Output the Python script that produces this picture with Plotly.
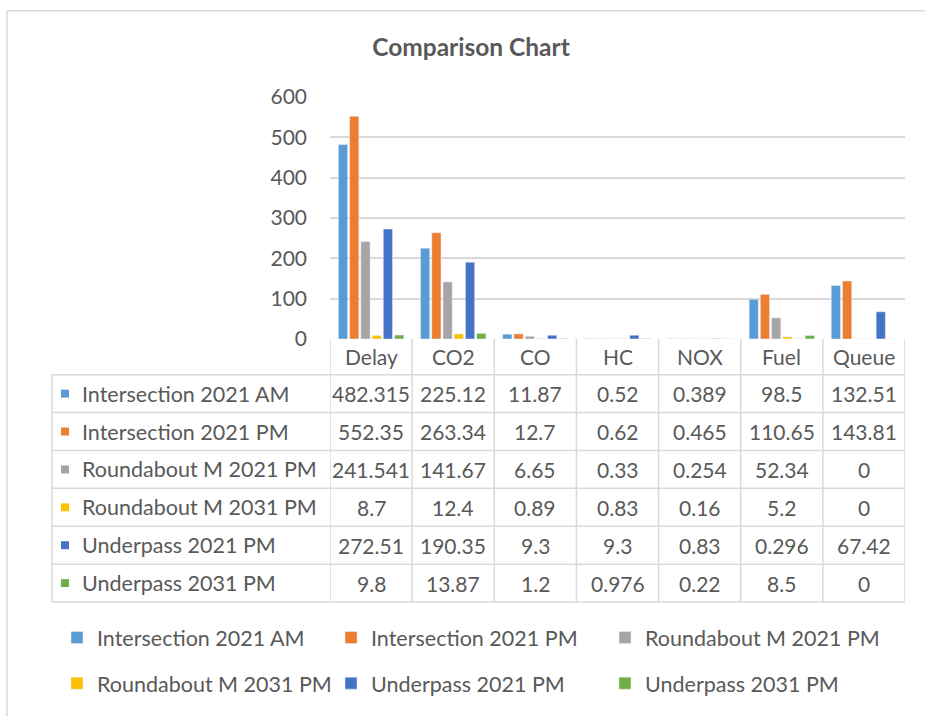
import plotly.graph_objects as go

categories = ["Delay", "CO2", "CO", "HC", "NOX", "Fuel", "Queue"]
series_names = ["Intersection 2021 AM", "Intersection 2021 PM", "Roundabout M 2021 PM",
                "Roundabout M 2031 PM", "Underpass 2021 PM", "Underpass 2031 PM"]
intersection_2021_am = [482.315, 225.12, 11.87, 0.52, 0.389, 98.5, 132.51]
intersection_2021_pm = [552.35, 263.34, 12.7, 0.62, 0.465, 110.65, 143.81]
roundabout_m_2021_pm = [241.541, 141.67, 6.65, 0.33, 0.254, 52.34, 0]
roundabout_m_2031_pm = [8.7, 12.4, 0.89, 0.83, 0.16, 5.2, 0]
underpass_2021_pm = [272.51, 190.35, 9.3, 9.3, 0.83, 0.296, 67.42]
underpass_2031_pm = [9.8, 13.87, 1.2, 0.976, 0.22, 8.5, 0]
table_text = [
    ["482.315", "225.12", "11.87", "0.52", "0.389", "98.5", "132.51"],
    ["552.35", "263.34", "12.7", "0.62", "0.465", "110.65", "143.81"],
    ["241.541", "141.67", "6.65", "0.33", "0.254", "52.34", "0"],
    ["8.7", "12.4", "0.89", "0.83", "0.16", "5.2", "0"],
    ["272.51", "190.35", "9.3", "9.3", "0.83", "0.296", "67.42"],
    ["9.8", "13.87", "1.2", "0.976", "0.22", "8.5", "0"],
]
series_values = [intersection_2021_am, intersection_2021_pm, roundabout_m_2021_pm,
                 roundabout_m_2031_pm, underpass_2021_pm, underpass_2031_pm]
colors = ["#5B9BD5", "#ED7D31", "#A5A5A5", "#FFC000", "#4472C4", "#70AD47"]

W, H = 925, 716
PL, PR, PT, PB = 330, 905, 97, 341
FONT = "Lato"
TXT = "#595959"
LINE = "#D9D9D9"

def xp(px):
    return (px - PL) / (PR - PL)

def yp(py):
    return (PB - py) / (PB - PT)

fig = go.Figure()
for i, (name, vals) in enumerate(zip(series_names, series_values)):
    fig.add_trace(go.Bar(x=categories, y=vals, name=name, marker_color=colors[i],
                         legend="legend" if i < 3 else "legend2"))

shapes = []
annotations = []
# outer frame
shapes.append(dict(type="line", xref="paper", yref="paper", x0=xp(7), x1=xp(W + 5),
                   y0=yp(10), y1=yp(10), line=dict(color=LINE, width=1.5)))
shapes.append(dict(type="line", xref="paper", yref="paper", x0=xp(7), x1=xp(7),
                   y0=yp(10), y1=yp(H + 5), line=dict(color=LINE, width=1.5)))

HEADER_BOTTOM = 377
ROW_H = 38.2
TABLE_LEFT = 52
n_rows = len(series_names)
table_bottom = HEADER_BOTTOM + n_rows * ROW_H
# vertical column lines
for j in range(len(categories) + 1):
    shapes.append(dict(type="line", xref="x", yref="paper", x0=j - 0.5, x1=j - 0.5,
                       y0=yp(PB), y1=yp(table_bottom), line=dict(color=LINE, width=1.5)))
shapes.append(dict(type="line", xref="paper", yref="paper", x0=xp(TABLE_LEFT), x1=xp(TABLE_LEFT),
                   y0=yp(HEADER_BOTTOM), y1=yp(table_bottom), line=dict(color=LINE, width=1.5)))
# horizontal row lines
for r in range(n_rows + 1):
    yy = HEADER_BOTTOM + r * ROW_H
    shapes.append(dict(type="line", xref="paper", yref="paper", x0=xp(TABLE_LEFT), x1=1,
                       y0=yp(yy), y1=yp(yy), line=dict(color=LINE, width=1.5)))

FS = 21
# header
for j, lab in enumerate(categories):
    annotations.append(dict(xref="x", yref="paper", x=j, y=yp((PB + HEADER_BOTTOM) / 2),
                            text=lab, showarrow=False, font=dict(family=FONT, size=FS, color=TXT),
                            xanchor="center", yanchor="middle"))
for r in range(n_rows):
    yc = HEADER_BOTTOM + (r + 0.5) * ROW_H
    shapes.append(dict(type="rect", xref="paper", yref="paper", x0=xp(61), x1=xp(69),
                       y0=yp(yc - 4), y1=yp(yc + 4), fillcolor=colors[r], line=dict(width=0)))
    annotations.append(dict(xref="paper", yref="paper", x=xp(80), y=yp(yc), text=series_names[r],
                            showarrow=False, font=dict(family=FONT, size=21.5, color=TXT),
                            xanchor="left", yanchor="middle"))
    for j in range(len(categories)):
        annotations.append(dict(xref="x", yref="paper", x=j, y=yp(yc), text=table_text[r][j],
                                showarrow=False, font=dict(family=FONT, size=FS, color=TXT),
                                xanchor="center", yanchor="middle"))

legend_common = dict(orientation="h", xref="paper", yref="paper", xanchor="left", yanchor="middle",
                     font=dict(family=FONT, size=21.5, color=TXT), entrywidth=229,
                     entrywidthmode="pixels", bgcolor="rgba(0,0,0,0)", itemclick=False)

fig.update_layout(
    width=W, height=H,
    margin=dict(l=PL, r=W - PR, t=PT, b=H - PB),
    paper_bgcolor="white", plot_bgcolor="white",
    title=dict(text="<b>Comparison Chart</b>", x=(471) / W, xanchor="center", y=1 - 47 / H,
               yanchor="middle", font=dict(family=FONT, size=24.5, color=TXT)),
    barmode="group", bargap=0.18, bargroupgap=0.18,
    xaxis=dict(showticklabels=False, showgrid=False, zeroline=False, showline=False,
               range=[-0.5, len(categories) - 0.5], fixedrange=True),
    yaxis=dict(range=[0, 600], dtick=100, showgrid=True, gridcolor=LINE, gridwidth=1.5,
               zeroline=False, tickfont=dict(family=FONT, size=21, color=TXT),
               ticks="", ticklabelstandoff=22, fixedrange=True),
    legend=dict(x=xp(57), y=yp(642), **legend_common),
    legend2=dict(x=xp(57), y=yp(688), **legend_common),
    shapes=shapes,
    annotations=annotations,
    showlegend=True,
)
fig.write_html("out.html", config={"displayModeBar": False},
               post_script="document.body.style.margin='0';document.body.style.overflow='hidden';")
